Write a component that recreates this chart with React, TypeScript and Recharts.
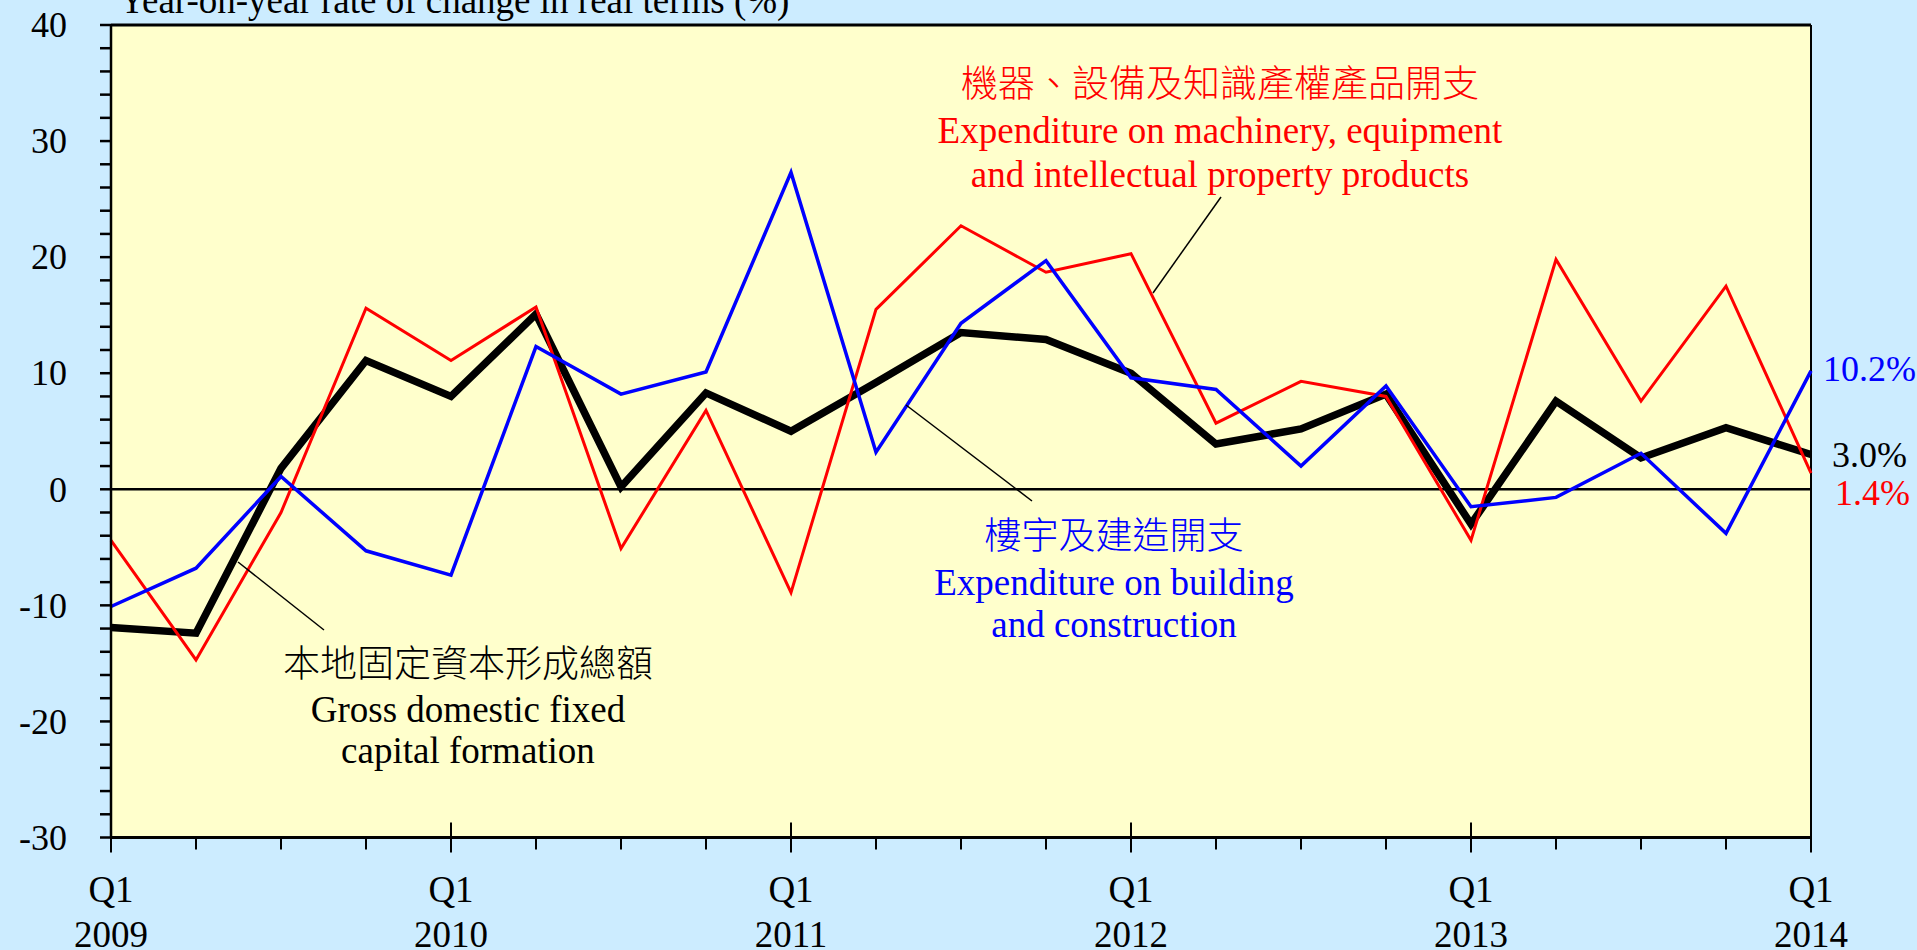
import { LineChart, Line, XAxis, YAxis, CartesianGrid, ReferenceLine, LabelList } from 'recharts'

// quarters, Q1 2009 .. Q1 2014
const quarters = [
  'Q1 2009', 'Q2 2009', 'Q3 2009', 'Q4 2009',
  'Q1 2010', 'Q2 2010', 'Q3 2010', 'Q4 2010',
  'Q1 2011', 'Q2 2011', 'Q3 2011', 'Q4 2011',
  'Q1 2012', 'Q2 2012', 'Q3 2012', 'Q4 2012',
  'Q1 2013', 'Q2 2013', 'Q3 2013', 'Q4 2013',
  'Q1 2014',
]

// year-on-year % change in real terms
const grossFixedCapital = [-11.9, -12.4, 1.8, 11.1, 8.0, 15.1, 0.2, 8.3, 5.0, 9.2, 13.5, 12.9, 10.0, 3.9, 5.2, 8.2, -3.0, 7.6, 2.7, 5.3, 3.0]
const machineryIP = [-4.4, -14.7, -2.0, 15.6, 11.1, 15.7, -5.1, 6.8, -8.9, 15.5, 22.7, 18.7, 20.3, 5.7, 9.3, 8.0, -4.4, 19.8, 7.6, 17.5, 1.4]
const buildingConstruction = [-10.1, -6.8, 1.1, -5.3, -7.4, 12.3, 8.2, 10.1, 27.3, 3.2, 14.3, 19.7, 9.6, 8.6, 2.0, 8.9, -1.5, -0.7, 3.1, -3.8, 10.2]

const yDomain = [-30, 40]
const yTicks = Array.from({ length: 36 }, (_, i) => -30 + i * 2)

const serif = "'Liberation Serif', 'Times New Roman', serif"
const cjk = "'Noto Sans CJK TC', 'Noto Sans CJK SC', sans-serif"

const data = quarters.map((q, i) => ({
  q,
  gdfcf: grossFixedCapital[i],
  machinery: machineryIP[i],
  building: buildingConstruction[i],
}))

const lastIdx = quarters.length - 1

const YTick = (props: any) => {
  const { x, y, payload } = props
  const v = payload.value
  return (
    <g>
      <line x1={x - 11} x2={x} y1={y} y2={y} stroke="#000" strokeWidth={2.5} />
      {v % 10 === 0 && (
        <text x={x - 44} y={y} dy="0.34em" textAnchor="end" fontSize={36} fontFamily={serif} fill="#000">
          {v}
        </text>
      )}
    </g>
  )
}

const XTick = (props: any) => {
  const { x, y, payload } = props
  const [q, yr] = String(payload.value).split(' ')
  const major = q === 'Q1'
  return (
    <g>
      <line x1={x} x2={x} y1={major ? y - 15 : y} y2={major ? y + 15 : y + 12} stroke="#000" strokeWidth={2} />
      {major && (
        <>
          <text x={x} y={y + 64} textAnchor="middle" fontSize={37} fontFamily={serif} fill="#000">{q}</text>
          <text x={x} y={y + 109} textAnchor="middle" fontSize={37} fontFamily={serif} fill="#000">{yr}</text>
        </>
      )}
    </g>
  )
}

const endLabel = (color: string, dx: number, dy: number) => (props: any) => {
  const { x, y, value, index } = props
  if (index !== lastIdx) return null
  return (
    <text x={x + dx} y={y + dy} dy="0.35em" fontSize={36} fontFamily={serif} fill={color}>
      {Number(value).toFixed(1)}%
    </text>
  )
}

export default function App() {
  return (
    <div style={{ position: 'absolute', left: 0, top: 0, width: 1917, height: 950, background: '#CCECFF', overflow: 'hidden' }}>
      <LineChart width={1917} height={950} data={data} margin={{ top: 25, right: 106, bottom: 0.5, left: 0 }}>
        <CartesianGrid fill="#FFFFCC" horizontal={false} vertical={false} />
        <XAxis
          dataKey="q"
          scale="point"
          padding={{ left: 0, right: 0 }}
          interval={0}
          height={112}
          tickLine={false}
          tickSize={0}
          tickMargin={0}
          axisLine={{ stroke: '#000', strokeWidth: 3 }}
          tick={<XTick />}
        />
        <YAxis
          type="number"
          domain={yDomain}
          ticks={yTicks}
          interval={0}
          width={111}
          tickLine={false}
          tickSize={0}
          tickMargin={0}
          axisLine={{ stroke: '#000', strokeWidth: 2.5 }}
          tick={<YTick />}
        />
        <ReferenceLine y={0} stroke="#000" strokeWidth={2.5} />
        <ReferenceLine y={40} stroke="#000" strokeWidth={3} />
        <ReferenceLine x={quarters[lastIdx]} stroke="#000" strokeWidth={2} />
        <Line dataKey="gdfcf" stroke="#000000" strokeWidth={7.5} dot={false} isAnimationActive={false}>
          <LabelList dataKey="gdfcf" content={endLabel('#000000', 21, 0)} />
        </Line>
        <Line dataKey="machinery" stroke="#FF0000" strokeWidth={3} dot={false} isAnimationActive={false}>
          <LabelList dataKey="machinery" content={endLabel('#FF0000', 24, 19)} />
        </Line>
        <Line dataKey="building" stroke="#0000FF" strokeWidth={3.5} dot={false} isAnimationActive={false}>
          <LabelList dataKey="building" content={endLabel('#0000FF', 12, -2)} />
        </Line>
      </LineChart>

      <svg width={1917} height={950} style={{ position: 'absolute', left: 0, top: 0, pointerEvents: 'none' }}>
        <text x={119} y={13} fontSize={37} fontFamily={serif} fill="#000">Year-on-year rate of change in real terms (%)</text>

        <g fill="#FF0000" textAnchor="middle">
          <text x={1220} y={97} fontSize={37} fontWeight={300} fontFamily={cjk}>機器、設備及知識產權產品開支</text>
          <text x={1220} y={143} fontSize={37} fontFamily={serif}>Expenditure on machinery, equipment</text>
          <text x={1220} y={187} fontSize={37} fontFamily={serif}>and intellectual property products</text>
        </g>
        <line x1={1221} y1={197} x2={1153} y2={293} stroke="#000" strokeWidth={1.5} />

        <g fill="#0000FF" textAnchor="middle">
          <text x={1114} y={549} fontSize={37} fontWeight={300} fontFamily={cjk}>樓宇及建造開支</text>
          <text x={1114} y={595} fontSize={37} fontFamily={serif}>Expenditure on building</text>
          <text x={1114} y={637} fontSize={37} fontFamily={serif}>and construction</text>
        </g>
        <line x1={906} y1={405} x2={1032} y2={501} stroke="#000" strokeWidth={1.5} />

        <g fill="#000" textAnchor="middle">
          <text x={468} y={677} fontSize={37} fontWeight={300} fontFamily={cjk}>本地固定資本形成總額</text>
          <text x={468} y={722} fontSize={37} fontFamily={serif}>Gross domestic fixed</text>
          <text x={468} y={763} fontSize={37} fontFamily={serif}>capital formation</text>
        </g>
        <line x1={238} y1={562} x2={324} y2={630} stroke="#000" strokeWidth={1.5} />
      </svg>
    </div>
  )
}
